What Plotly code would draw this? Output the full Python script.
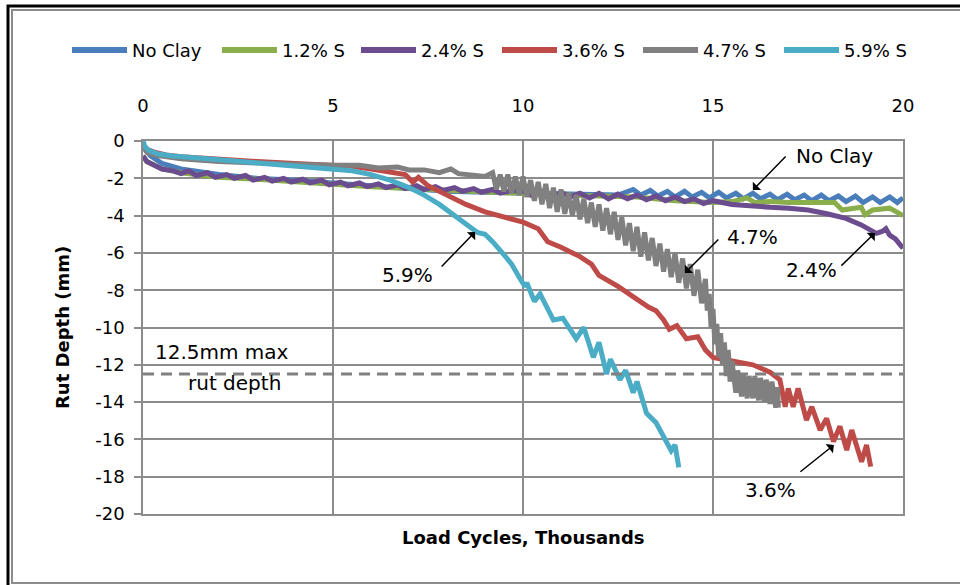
import plotly.graph_objects as go

# ---------------- data (Load cycles in thousands, rut depth in mm) ----------------
noclay_x = [0, 0.2, 0.5, 1, 2, 3, 4, 5, 6, 7, 8, 9, 10, 11, 12, 12.5,
            12.9, 13.1, 13.35, 13.55, 13.8, 14.0, 14.25, 14.45, 14.7, 14.9, 15.15, 15.35,
            15.6, 15.8, 16.05, 16.25, 16.5, 16.7, 16.95, 17.15, 17.4, 17.6, 17.85, 18.05,
            18.3, 18.5, 18.75, 18.95, 19.2, 19.4, 19.65, 19.85, 20]
noclay_y = [-0.3, -0.8, -1.2, -1.5, -1.8, -2.0, -2.1, -2.25, -2.4, -2.6, -2.7, -2.75, -2.8, -2.85, -2.9, -2.9,
            -2.6, -2.9, -2.65, -2.95, -2.7, -3.0, -2.7, -3.0, -2.75, -3.05, -2.75, -3.05,
            -2.8, -3.1, -2.8, -3.1, -2.85, -3.15, -2.85, -3.15, -2.9, -3.2, -2.9, -3.2,
            -2.95, -3.25, -2.95, -3.3, -3.0, -3.3, -3.0, -3.3, -3.05]

s12_x = [0, 0.1, 0.3, 0.5, 1, 2, 3, 4, 5, 6, 7, 8, 9, 10, 11, 12, 13, 14, 14.5, 15, 15.5,
         15.9, 16.1, 16.5, 17, 17.5, 18.2, 18.4, 18.9, 19.0, 19.2, 19.65, 20]
s12_y = [-0.8, -1.1, -1.3, -1.5, -1.7, -1.95, -2.05, -2.2, -2.3, -2.45, -2.55, -2.65, -2.75, -2.85, -2.9, -2.95, -3.0, -3.2, -3.25, -3.3, -3.25,
         -3.05, -3.3, -3.25, -3.3, -3.3, -3.3, -3.7, -3.55, -3.95, -3.7, -3.6, -4.0]

s24_x = [0, 0.1, 0.3, 0.5, 0.8, 1.0, 1.2, 1.4, 1.7, 1.9, 2.2, 2.4, 2.7, 2.9, 3.2, 3.4, 3.7, 3.9,
         4.2, 4.4, 4.7, 4.9, 5.2, 5.4, 5.7, 5.9, 6.2, 6.4, 6.7, 6.9, 7.2, 7.4, 7.7, 7.9, 8.2, 8.4,
         8.7, 8.9, 9.2, 9.4, 9.7, 10.0, 10.25, 10.5, 10.75, 11.0, 11.25, 11.5, 11.75, 12.0, 12.25,
         12.5, 12.75, 13.0, 13.25, 13.5, 13.75, 14.0, 14.25, 14.5, 14.75, 15.0, 15.5, 16,
         16.5, 17, 17.5, 18, 18.5, 18.9, 19.2, 19.3, 19.45, 19.55, 19.65, 19.8, 20]
s24_y = [-0.8, -1.1, -1.3, -1.5, -1.6, -1.75, -1.6, -1.85, -1.7, -1.95, -1.8, -2.0, -1.85, -2.1, -1.95, -2.15, -2.0, -2.2,
         -2.05, -2.25, -2.1, -2.35, -2.2, -2.4, -2.25, -2.45, -2.3, -2.5, -2.35, -2.55, -2.4, -2.6, -2.45, -2.65, -2.5, -2.7,
         -2.55, -2.75, -2.6, -2.8, -2.65, -2.7, -2.95, -2.7, -3.0, -2.75, -3.0, -2.8, -3.05, -2.8, -3.1,
         -2.85, -3.1, -2.9, -3.15, -2.95, -3.2, -3.0, -3.25, -3.1, -3.35, -3.2, -3.4, -3.5,
         -3.55, -3.6, -3.7, -3.9, -4.15, -4.5, -4.85, -4.95, -4.85, -4.7, -5.05, -5.25, -5.75]

s36_x = [0, 0.1, 0.3, 0.6, 1, 2, 3, 4, 5, 5.5, 6, 6.5, 6.9, 7.1, 7.25, 7.5, 8, 8.5, 9, 9.5, 10,
         10.4, 10.55, 10.65, 11, 11.5, 11.8, 12.0, 12.5, 13, 13.3, 13.5, 13.7, 13.85, 14.05, 14.3,
         14.6, 14.8, 15.0, 15.5, 16.05, 16.5, 16.76, 16.9, 16.98, 17.11, 17.24, 17.46, 17.6, 17.82,
         17.99, 18.17, 18.34, 18.52, 18.65, 18.91, 19.04, 19.15]
s36_y = [-0.2, -0.45, -0.6, -0.75, -0.85, -1.0, -1.1, -1.2, -1.3, -1.35, -1.5, -1.65, -1.8, -2.2, -1.95, -2.4, -2.9, -3.4, -3.8, -4.05, -4.35,
         -4.7, -5.1, -5.4, -5.7, -6.2, -6.6, -7.2, -7.8, -8.5, -8.9, -9.1, -9.6, -10.1, -9.9, -10.6,
         -10.5, -11.2, -11.6, -11.8, -12.0, -12.4, -12.8, -14.25, -13.26, -14.25, -13.26, -14.96, -14.25, -15.5,
         -14.87, -16.12, -15.3, -16.57, -15.5, -17.2, -16.3, -17.46]

s47_x = [0, 0.1, 0.3, 0.6, 1, 2, 3, 4, 5, 5.7, 6.2, 6.7, 7.0, 7.4, 7.8, 8.1, 8.3, 8.6, 9.0,
         9.2, 9.3, 9.4, 9.5, 9.6, 9.7, 9.8, 9.9, 10.0, 10.1, 10.2, 10.3, 10.4, 10.5, 10.6, 10.7,
         10.8, 10.9, 11.0, 11.1, 11.2, 11.3, 11.4, 11.5, 11.6, 11.7, 11.8, 11.9, 12.0, 12.1, 12.2,
         12.3, 12.4, 12.5, 12.6, 12.7, 12.8, 12.9, 13.0, 13.1, 13.2, 13.3, 13.4, 13.5, 13.6, 13.7,
         13.8, 13.9, 14.0, 14.1, 14.2, 14.3, 14.4, 14.5, 14.6, 14.7, 14.8, 14.85, 14.9, 14.95,
         15.0, 15.05, 15.1, 15.15, 15.2, 15.25, 15.3, 15.35, 15.4, 15.45, 15.5, 15.6, 15.65, 15.75,
         15.8, 15.9, 15.95, 16.05, 16.1, 16.2, 16.25, 16.35, 16.4, 16.5, 16.55, 16.65, 16.7, 16.72]
s47_y = [-0.3, -0.6, -0.75, -0.85, -0.95, -1.1, -1.2, -1.25, -1.3, -1.3, -1.45, -1.4, -1.55, -1.55, -1.7, -1.5, -1.75, -1.8, -1.9,
         -1.7, -2.6, -1.8, -2.7, -1.8, -2.8, -1.9, -2.9, -1.9, -3.0, -2.1, -3.2, -2.2, -3.4, -2.3, -3.6,
         -2.5, -3.8, -2.6, -3.9, -2.8, -4.0, -2.9, -4.2, -3.1, -4.4, -3.3, -4.6, -3.4, -4.8, -3.6,
         -5.0, -3.8, -5.3, -4.1, -5.6, -4.4, -5.9, -4.6, -6.2, -4.9, -6.4, -5.2, -6.7, -5.5, -7.0,
         -5.8, -7.3, -6.0, -7.6, -6.3, -7.9, -6.6, -8.3, -6.9, -8.7, -7.4, -9.1, -8.2, -10.0,
         -9.0, -10.9, -9.8, -11.6, -10.3, -12.0, -10.8, -12.6, -11.2, -12.9, -11.8, -13.5, -12.3, -13.7,
         -12.5, -13.8, -12.6, -13.8, -12.6, -13.9, -12.7, -14.0, -12.8, -14.1, -12.9, -14.3, -13.2, -14.3]

s59_x = [0, 0.05, 0.15, 0.4, 0.8, 1.4, 2, 3, 4, 5, 5.5, 6, 6.5, 7, 7.4, 7.8, 8.2, 8.5, 8.8, 9.0,
         9.2, 9.5, 9.7, 9.9, 10.05, 10.1, 10.3, 10.45, 10.8, 11.05, 11.4, 11.6, 11.85, 12.0, 12.2,
         12.3, 12.55, 12.7, 12.9, 13.0, 13.25, 13.5, 13.9, 14.0, 14.1]
s59_y = [0.0, -0.3, -0.5, -0.7, -0.8, -0.9, -1.0, -1.15, -1.3, -1.5, -1.6, -1.8, -2.1, -2.5, -2.9, -3.4, -4.0, -4.5, -4.9, -5.0,
         -5.4, -6.1, -6.6, -7.3, -7.8, -7.6, -8.6, -8.2, -9.6, -9.5, -10.6, -10.0, -11.6, -10.8, -12.5,
         -11.7, -12.8, -12.3, -13.5, -12.9, -14.6, -15.1, -16.6, -16.3, -17.5]

series_names = ["No Clay", "1.2% S", "2.4% S", "3.6% S", "4.7% S", "5.9% S"]
series_x = [noclay_x, s12_x, s24_x, s36_x, s47_x, s59_x]
series_y = [noclay_y, s12_y, s24_y, s36_y, s47_y, s59_y]
series_colors = ["#4A7EBB", "#8AAE4B", "#6B4C8F", "#BE4B48", "#808080", "#4BACC6"]

x_ticks = [0, 5, 10, 15, 20]
y_ticks = list(range(0, -21, -2))
y_ticktext = [str(v) for v in y_ticks]
max_rut = -12.5

FONT = "DejaVu Sans"
GRID = "#8c8c8c"

W, H = 960, 585
L, R, T, B = 143, 57, 141, 71
pw, ph = W - L - R, H - T - B

def px(xp):
    return (xp - L) / pw

def py(yp):
    return (H - B - yp) / ph

fig = go.Figure()
for name, xs, ys, col in zip(series_names, series_x, series_y, series_colors):
    fig.add_trace(go.Scatter(x=xs, y=ys, mode="lines", name=name, showlegend=False,
                             line=dict(color=col, width=5)))

# 12.5 mm max rut depth line
fig.add_trace(go.Scatter(x=[0, 20], y=[max_rut, max_rut], mode="lines", showlegend=False,
                         line=dict(color="#808080", width=3, dash="11px,7px")))

# chart frame: rectangles whose right (and for the black one, bottom) edges lie off-page
shapes = [
    dict(type="rect", xref="paper", yref="paper", x0=px(8), x1=px(990), y0=py(6), y1=py(610),
         line=dict(color="black", width=3), fillcolor="rgba(0,0,0,0)", layer="below"),
    dict(type="rect", xref="paper", yref="paper", x0=px(12), x1=px(990), y0=py(10), y1=py(583),
         line=dict(color="#8c8c8c", width=2), fillcolor="rgba(0,0,0,0)", layer="below"),
]

annotations = []

# legend drawn as line samples + labels (positions in pixels)
leg_line_x0 = [72, 222, 361, 502, 643, 784]
leg_line_len = 55
leg_y = 50
for name, col, x0 in zip(series_names, series_colors, leg_line_x0):
    shapes.append(dict(type="line", xref="paper", yref="paper",
                       x0=px(x0), x1=px(x0 + leg_line_len), y0=py(leg_y), y1=py(leg_y),
                       line=dict(color=col, width=6)))
    annotations.append(dict(x=px(x0 + leg_line_len + 3), y=py(leg_y), xref="paper", yref="paper",
                            xanchor="left", yanchor="middle", text=name, showarrow=False,
                            font=dict(family=FONT, size=18, color="black")))

def arrow(hx, hy, tx, ty):
    return dict(x=hx, y=hy, ax=tx, ay=ty, xref="x", yref="y", axref="x", ayref="y",
                text="", showarrow=True, arrowhead=1, arrowsize=1.3, arrowwidth=1.5,
                arrowcolor="black")

def label(x, y, t, size=20):
    return dict(x=x, y=y, xref="x", yref="y", text=t, showarrow=False,
                xanchor="center", yanchor="middle",
                font=dict(family=FONT, size=size, color="black"))

annotations += [
    arrow(16.05, -2.63, 16.95, -0.75), label(18.2, -0.8, "No Clay"),
    arrow(14.26, -7.08, 15.18, -5.2), label(16.05, -5.15, "4.7%"),
    arrow(19.26, -4.93, 18.34, -6.76), label(17.6, -6.9, "2.4%"),
    arrow(8.74, -4.88, 7.82, -6.81), label(6.97, -7.2, "5.9%"),
    arrow(18.18, -16.3, 17.26, -17.8), label(16.5, -18.7, "3.6%"),
    label(2.08, -11.3, "12.5mm max"), label(2.42, -13.0, "rut depth"),
    dict(x=px(62), y=py(328), xref="paper", yref="paper", text="<b>Rut Depth (mm)</b>",
         xanchor="center", yanchor="middle",
         textangle=-90, showarrow=False, font=dict(family=FONT, size=18, color="black")),
    dict(x=px(523), y=py(537), xref="paper", yref="paper", text="<b>Load Cycles, Thousands</b>",
         xanchor="center", yanchor="middle",
         showarrow=False, font=dict(family=FONT, size=18, color="black")),
]

fig.update_layout(
    width=W, height=H,
    margin=dict(l=L, r=R, t=T, b=B),
    paper_bgcolor="white", plot_bgcolor="white",
    font=dict(family=FONT, size=18, color="black"),
    showlegend=False,
    xaxis=dict(side="top", range=[0, 20], tickvals=x_ticks, showgrid=True, gridcolor=GRID,
               gridwidth=1.5, zeroline=False, showline=True, linecolor=GRID, linewidth=1.5,
               mirror=True, ticks="", ticklabelstandoff=20, tickfont=dict(size=18)),
    yaxis=dict(range=[-20, 0], tickvals=y_ticks, ticktext=y_ticktext, showgrid=True,
               gridcolor=GRID, gridwidth=1.5,
               zeroline=False, showline=True, linecolor=GRID, linewidth=1.5, mirror=True,
               ticks="outside", ticklen=7, tickwidth=1.5, tickcolor=GRID,
               ticklabelstandoff=6, tickfont=dict(size=18)),
    shapes=shapes,
    annotations=annotations,
)

fig.write_html("out.html")
